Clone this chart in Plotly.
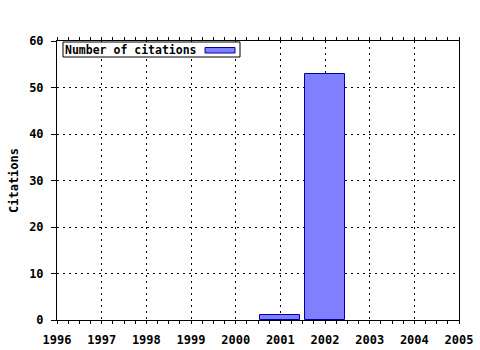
import plotly.graph_objects as go

years = [2001, 2002]
citations = [1, 53]
x_ticks = list(range(1996, 2006))
y_ticks = [0, 10, 20, 30, 40, 50, 60]
series_name = "Number of citations"

FONT = "DejaVu Sans Mono"
tfont = dict(family=FONT, size=12, color="black", weight="bold")

fig = go.Figure()
fig.add_trace(go.Bar(
    x=years, y=citations, width=0.9,
    marker=dict(color="#8080FF", line=dict(color="#0000A0", width=1)),
    name=series_name, showlegend=False,
))

grid = dict(showgrid=True, gridcolor="black", griddash="2px,4px", gridwidth=1,
            zeroline=False, automargin=False, showline=True, linecolor="black", linewidth=1,
            tickcolor="black", tickfont=tfont)

fig.update_layout(
    width=480, height=350,
    margin=dict(l=57, r=21, t=41, b=30),
    paper_bgcolor="white", plot_bgcolor="white",
    bargap=0,
    xaxis=dict(range=[1996, 2005], tickvals=x_ticks, ticktext=[str(v) for v in x_ticks],
               ticks="outside", ticklen=3, mirror="ticks", ticklabelstandoff=6,
               minor=dict(ticks="outside", ticklen=3, dtick=0.25, tick0=1996, tickcolor="black", showgrid=False),
               **grid),
    yaxis=dict(range=[0, 60], tickvals=y_ticks, ticks="outside", ticklen=5, mirror=True,
               ticklabelstandoff=5,
               title=dict(text="Citations", font=tfont, standoff=7),
               **grid),
    showlegend=False,
)

# legend box (text left, swatch right) like the reference
fig.add_shape(type="rect", xref="paper", yref="paper",
              x0=(63-57)/402, x1=(240-57)/402, y0=1-(57-41)/279, y1=1-(42-41)/279,
              line=dict(color="black", width=1), fillcolor="white", layer="above")
fig.add_shape(type="rect", xref="paper", yref="paper",
              x0=(205-57)/402, x1=(235-57)/402, y0=1-(53-41)/279, y1=1-(47.5-41)/279,
              line=dict(color="#0000A0", width=1), fillcolor="#8080FF", layer="above")
fig.add_annotation(xref="paper", yref="paper", x=(63-57)/402, y=1-(49.5-41)/279,
                   xanchor="left", yanchor="middle", showarrow=False,
                   text=series_name, font=dict(family=FONT, size=11.5, color="black", weight="bold"))

fig.write_html("out.html")
